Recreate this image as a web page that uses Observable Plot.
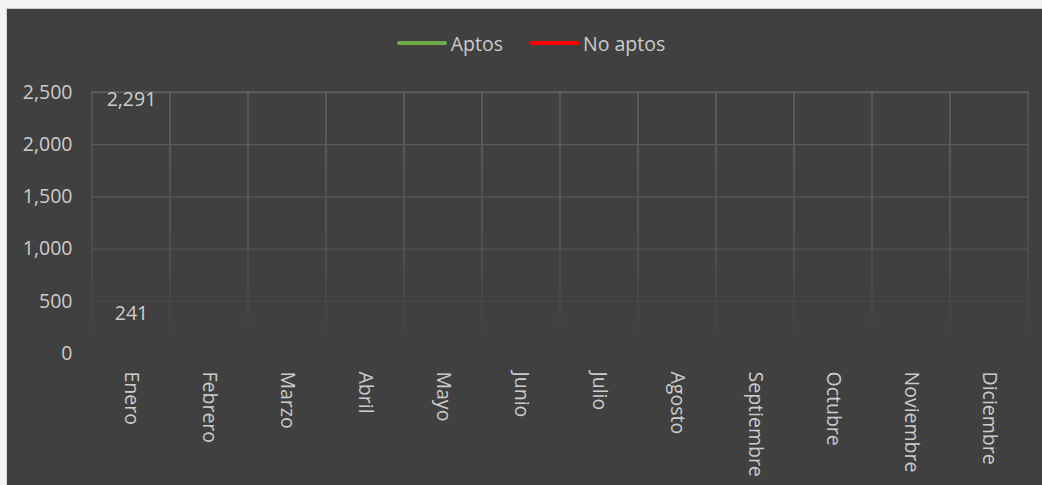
<!DOCTYPE html>
<html>
<head>
<meta charset="utf-8">
<script src="https://cdn.jsdelivr.net/npm/d3@7"></script>
<script src="https://cdn.jsdelivr.net/npm/@observablehq/plot@0.6"></script>
<style>
  html, body { margin: 0; padding: 0; background: #f3f3f3; overflow: hidden; }
  #frame { position: absolute; left: 6px; top: 8px; width: 1036px; height: 477px;
           background: #404040; border-left: 1px solid #d4d4d4; border-top: 1px solid #c8c8c8;
           font-family: "Open Sans", sans-serif; }
  #legend { height: 60px; display: flex; justify-content: center; align-items: center;
            padding-top: 8px; padding-left: 12px; box-sizing: border-box; color: #cccccc; font-size: 19.5px; }
  .item { display: flex; align-items: center; margin: 0 26px 0 0; }
  .item:last-child { margin-right: 0; }
  .sw { width: 50px; height: 4px; border-radius: 2px; margin-right: 4px; }
  #chart svg { display: block; }
</style>
</head>
<body>
<div id="frame">
  <div id="legend"></div>
  <div id="chart"></div>
</div>
<script>
const months = ["Enero","Febrero","Marzo","Abril","Mayo","Junio","Julio","Agosto","Septiembre","Octubre","Noviembre","Diciembre"];
const aptos = [2291, null, null, null, null, null, null, null, null, null, null, null];
const noAptos = [241, null, null, null, null, null, null, null, null, null, null, null];
const yTicks = [0, 500, 1000, 1500, 2000, 2500];
const seriesNames = ["Aptos", "No aptos"];
const seriesColors = ["#70ad47", "#ff0000"];

const rows = [];
months.forEach((m, i) => {
  rows.push({month: m, serie: seriesNames[0], value: aptos[i]});
  rows.push({month: m, serie: seriesNames[1], value: noAptos[i]});
});
const valid = rows.filter(d => d.value != null);

// legend
const legend = document.getElementById("legend");
seriesNames.forEach((s, i) => {
  const it = document.createElement("div");
  it.className = "item";
  it.innerHTML = `<div class="sw" style="background:${seriesColors[i]}"></div><span>${s}</span>`;
  legend.appendChild(it);
});

const W = 1036, H = 416;
const mt = 23, mb = 132;
const txt = "#cccccc";
const plot = Plot.plot({
  width: W, height: H,
  marginTop: mt, marginBottom: mb, marginLeft: 85, marginRight: 15,
  style: {background: "transparent", color: txt, fontFamily: "Open Sans, sans-serif", fontSize: "19.5px"},
  x: {type: "band", domain: months, padding: 0, label: null},
  y: {domain: [0, 2500], label: null},
  color: {domain: seriesNames, range: seriesColors},
  marks: [
    Plot.barY(months, {x: d => d, y1: 0, y2: 2500, fill: "none", stroke: "url(#gridfade)", strokeWidth: 1.3, inset: 0}),
    Plot.ruleY(yTicks.filter(t => t > 0), {stroke: "url(#gridfade)", strokeWidth: 1.3}),
    Plot.axisY({ticks: yTicks, tickSize: 0, tickPadding: 20, tickFormat: d3.format(","), fontSize: 19.5, fill: txt}),
    Plot.axisX({tickSize: 0, tickRotate: 90, tickPadding: 18, fontSize: 19.5, fill: txt}),
    Plot.line(rows, {x: "month", y: "value", z: "serie", stroke: "serie", strokeWidth: 3, strokeLinecap: "butt"}),
    Plot.text(valid, {x: "month", y: "value", text: d => d3.format(",")(d.value), dy: -15, fill: txt, fontSize: 19.5})
  ]
});

// gradient for fading gridlines
const svgns = "http://www.w3.org/2000/svg";
const defs = document.createElementNS(svgns, "defs");
const grad = document.createElementNS(svgns, "linearGradient");
grad.setAttribute("id", "gridfade");
grad.setAttribute("gradientUnits", "userSpaceOnUse");
grad.setAttribute("x1", 0); grad.setAttribute("x2", 0);
grad.setAttribute("y1", mt); grad.setAttribute("y2", H - mb - 10);
[[0, "#5c5c5c", 1], [0.55, "#555555", 1], [1, "#404040", 1]].forEach(([o, c, op]) => {
  const st = document.createElementNS(svgns, "stop");
  st.setAttribute("offset", o); st.setAttribute("stop-color", c); st.setAttribute("stop-opacity", op);
  grad.appendChild(st);
});
defs.appendChild(grad);
plot.insertBefore(defs, plot.firstChild);
document.getElementById("chart").appendChild(plot);
</script>
</body>
</html>
